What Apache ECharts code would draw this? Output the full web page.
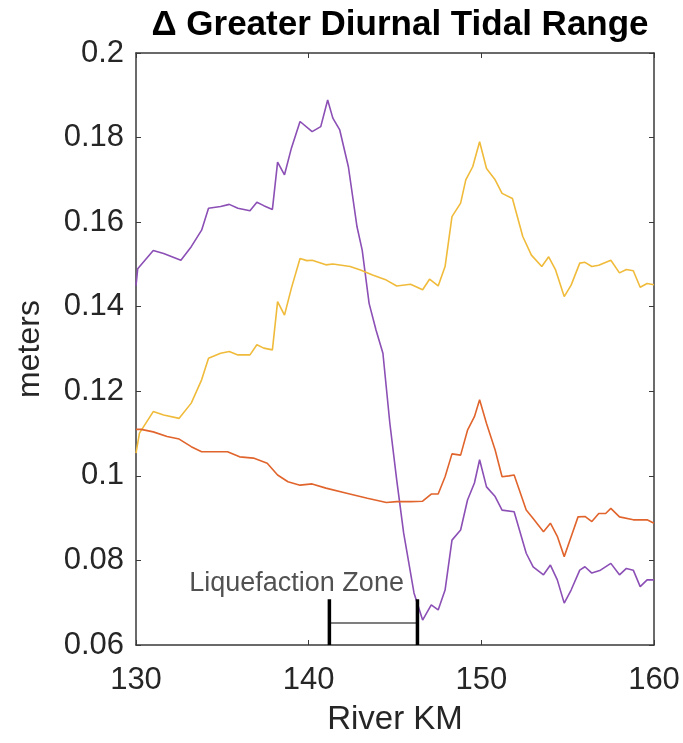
<!DOCTYPE html>
<html>
<head>
<meta charset="utf-8">
<script src="https://cdn.jsdelivr.net/npm/echarts@6/dist/echarts.min.js"></script>
<style>
  html, body { margin: 0; padding: 0; background: #fff; }
  #chart { width: 683px; height: 743px; }
</style>
</head>
<body>
<div id="chart"></div>
<script>
var xTicks = [130, 140, 150, 160];
var yTicks = [0.06, 0.08, 0.1, 0.12, 0.14, 0.16, 0.18, 0.2];

var purpleKm = [130, 130.1, 131.0, 131.6, 132.6, 133.2, 133.8, 134.2, 134.9, 135.4, 135.9, 136.6, 137.0, 137.4, 137.9, 138.2, 138.6, 139.0, 139.5, 140.2, 140.7, 141.1, 141.4, 141.8, 142.3, 142.8, 143.1, 143.5, 143.9, 144.3, 144.7, 145.1, 145.5, 146.1, 146.6, 147.1, 147.5, 147.9, 148.3, 148.8, 149.2, 149.6, 149.9, 150.3, 150.8, 151.2, 151.9, 152.6, 153.0, 153.6, 154.0, 154.4, 154.8, 155.2, 155.7, 156.0, 156.4, 156.9, 157.5, 158.0, 158.4, 158.8, 159.2, 159.6, 160];
var purpleVal = [0.145, 0.149, 0.1533, 0.1526, 0.151, 0.1542, 0.1581, 0.1633, 0.1637, 0.1642, 0.1633, 0.1627, 0.1647, 0.1639, 0.163, 0.1742, 0.1712, 0.1775, 0.1838, 0.1814, 0.1826, 0.1889, 0.1846, 0.1818, 0.1731, 0.1589, 0.1534, 0.1408, 0.1345, 0.129, 0.1125, 0.099, 0.0865, 0.0723, 0.0659, 0.0695, 0.0683, 0.073, 0.0848, 0.0872, 0.0943, 0.0983, 0.1038, 0.0974, 0.0951, 0.0919, 0.0915, 0.0817, 0.0785, 0.0766, 0.0789, 0.0754, 0.0699, 0.073, 0.0777, 0.0785, 0.077, 0.0777, 0.0793, 0.0766, 0.0781, 0.0777, 0.0738, 0.0754, 0.0754];

var yellowKm = [130, 130.2, 131.0, 131.6, 132.5, 133.2, 133.8, 134.2, 134.9, 135.4, 135.9, 136.6, 137.0, 137.4, 137.9, 138.2, 138.6, 139.0, 139.5, 139.9, 140.2, 141.0, 141.4, 142.4, 143.0, 143.7, 144.5, 145.1, 145.9, 146.6, 147.0, 147.5, 147.9, 148.3, 148.8, 149.1, 149.5, 149.9, 150.3, 150.8, 151.2, 151.8, 152.4, 152.9, 153.5, 153.9, 154.3, 154.8, 155.2, 155.7, 156.0, 156.4, 156.8, 157.5, 158.0, 158.4, 158.8, 159.2, 159.6, 160];
var yellowVal = [0.1054, 0.1101, 0.1152, 0.1144, 0.1136, 0.1172, 0.1227, 0.1278, 0.129, 0.1294, 0.1286, 0.1286, 0.131, 0.1302, 0.1298, 0.1412, 0.138, 0.1444, 0.1514, 0.1509, 0.151, 0.1499, 0.1501, 0.1495, 0.1487, 0.1475, 0.1463, 0.1449, 0.1453, 0.144, 0.1465, 0.1449, 0.1495, 0.1613, 0.1645, 0.17, 0.1731, 0.179, 0.1727, 0.17, 0.1668, 0.1656, 0.1566, 0.1522, 0.1495, 0.1518, 0.1487, 0.1424, 0.1451, 0.1503, 0.1505, 0.1495, 0.1498, 0.151, 0.148, 0.1488, 0.1485, 0.1446, 0.1455, 0.1452];

var orangeKm = [130, 130.3, 131.0, 131.8, 132.5, 133.2, 133.8, 134.7, 135.3, 136.0, 136.8, 137.6, 138.2, 138.8, 139.5, 140.2, 141.0, 142.2, 143.4, 144.5, 145.1, 145.9, 146.6, 147.1, 147.5, 147.9, 148.3, 148.8, 149.2, 149.6, 149.9, 150.3, 150.8, 151.2, 151.6, 151.9, 152.6, 153.0, 153.6, 154.0, 154.4, 154.8, 155.2, 155.6, 156.0, 156.4, 156.8, 157.2, 157.5, 158.0, 158.8, 159.6, 160];
var orangeVal = [0.111, 0.111, 0.1104, 0.1093, 0.1087, 0.1069, 0.1057, 0.1057, 0.1057, 0.1045, 0.1042, 0.103, 0.1002, 0.0986, 0.0978, 0.0981, 0.0971, 0.0959, 0.0947, 0.0937, 0.0939, 0.0939, 0.094, 0.0957, 0.0957, 0.0998, 0.1052, 0.1049, 0.1108, 0.114, 0.118, 0.1124, 0.1061, 0.0998, 0.1, 0.1002, 0.0919, 0.0899, 0.0868, 0.0888, 0.0857, 0.0809, 0.0856, 0.0903, 0.0904, 0.0892, 0.0911, 0.0911, 0.0923, 0.0903, 0.0896, 0.0896, 0.0888];

var zoneStart = 141.2;
var zoneEnd = 146.3;
var zoneY = 0.0652;
var zoneBarTop = 0.0708;
var zoneLabel = [139.3, 0.0745];

function pairs(xs, ys) {
  return xs.map(function (x, i) { return [x, ys[i]]; });
}

var chart = echarts.init(document.getElementById('chart'));

var font = 'Liberation Sans, Arial, sans-serif';
var axisColor = '#3a3a3a';

function lineSeries(xs, ys, color) {
  return {
    type: 'line',
    data: pairs(xs, ys),
    showSymbol: false,
    symbol: 'none',
    lineStyle: { color: color, width: 1.6 },
    silent: true,
    z: 3
  };
}

var option = {
  animation: false,
  title: {
    text: '\u0394 Greater Diurnal Tidal Range',
    left: 395,
    textAlign: 'center',
    top: 3,
    textStyle: { fontFamily: font, fontSize: 35, fontWeight: 'bold', color: '#000' }
  },
  grid: { left: 136, right: 29, top: 53, bottom: 98 },
  xAxis: [{
    type: 'value',
    min: 130, max: 160, interval: 10,
    position: 'bottom',
    name: 'River KM',
    nameLocation: 'middle',
    nameGap: 58,
    nameTextStyle: { fontFamily: font, fontSize: 33, color: '#262626' },
    axisLine: { show: true, lineStyle: { color: axisColor, width: 1.5 } },
    axisTick: { show: true, inside: true, length: 5, lineStyle: { color: axisColor } },
    axisLabel: { fontFamily: font, fontSize: 31, color: '#262626', margin: 20 },
    splitLine: { show: false }
  }, {
    type: 'value',
    min: 130, max: 160, interval: 10,
    position: 'top',
    axisLine: { show: true, lineStyle: { color: axisColor, width: 1.5 } },
    axisTick: { show: true, inside: true, length: 5, lineStyle: { color: axisColor } },
    axisLabel: { show: false },
    splitLine: { show: false }
  }],
  yAxis: [{
    type: 'value',
    min: 0.06, max: 0.2, interval: 0.02,
    position: 'left',
    name: 'meters',
    nameLocation: 'middle',
    nameGap: 90,
    nameTextStyle: { fontFamily: font, fontSize: 32, color: '#262626' },
    axisLine: { show: true, lineStyle: { color: axisColor, width: 1.5 } },
    axisTick: { show: true, inside: true, length: 5, lineStyle: { color: axisColor } },
    axisLabel: {
      fontFamily: font, fontSize: 31, color: '#262626', margin: 12,
      formatter: function (v) { return String(Math.round(v * 100) / 100); }
    },
    splitLine: { show: false }
  }, {
    type: 'value',
    min: 0.06, max: 0.2, interval: 0.02,
    position: 'right',
    axisLine: { show: true, lineStyle: { color: axisColor, width: 1.5 } },
    axisTick: { show: true, inside: true, length: 5, lineStyle: { color: axisColor } },
    axisLabel: { show: false },
    splitLine: { show: false }
  }],
  series: [
    lineSeries(purpleKm, purpleVal, '#8b4fb5'),
    lineSeries(yellowKm, yellowVal, '#f0bb3a'),
    lineSeries(orangeKm, orangeVal, '#e0642c'),
    {
      type: 'line',
      data: [[zoneStart, zoneY], [zoneEnd, zoneY]],
      symbol: 'none',
      lineStyle: { color: '#000', width: 1.2 },
      silent: true, z: 4
    },
    {
      type: 'line',
      data: [[zoneStart, 0.06], [zoneStart, zoneBarTop]],
      symbol: 'none',
      lineStyle: { color: '#000', width: 3.5 },
      silent: true, z: 4
    },
    {
      type: 'line',
      data: [[zoneEnd, 0.06], [zoneEnd, zoneBarTop]],
      symbol: 'none',
      lineStyle: { color: '#000', width: 3.5 },
      silent: true, z: 4
    },
    {
      type: 'scatter',
      data: [zoneLabel],
      symbolSize: 0,
      silent: true,
      label: {
        show: true,
        position: 'inside',
        formatter: 'Liquefaction Zone',
        fontFamily: font,
        fontSize: 27,
        color: '#262626'
      },
      z: 5
    }
  ]
};

chart.setOption(option);
</script>
</body>
</html>
